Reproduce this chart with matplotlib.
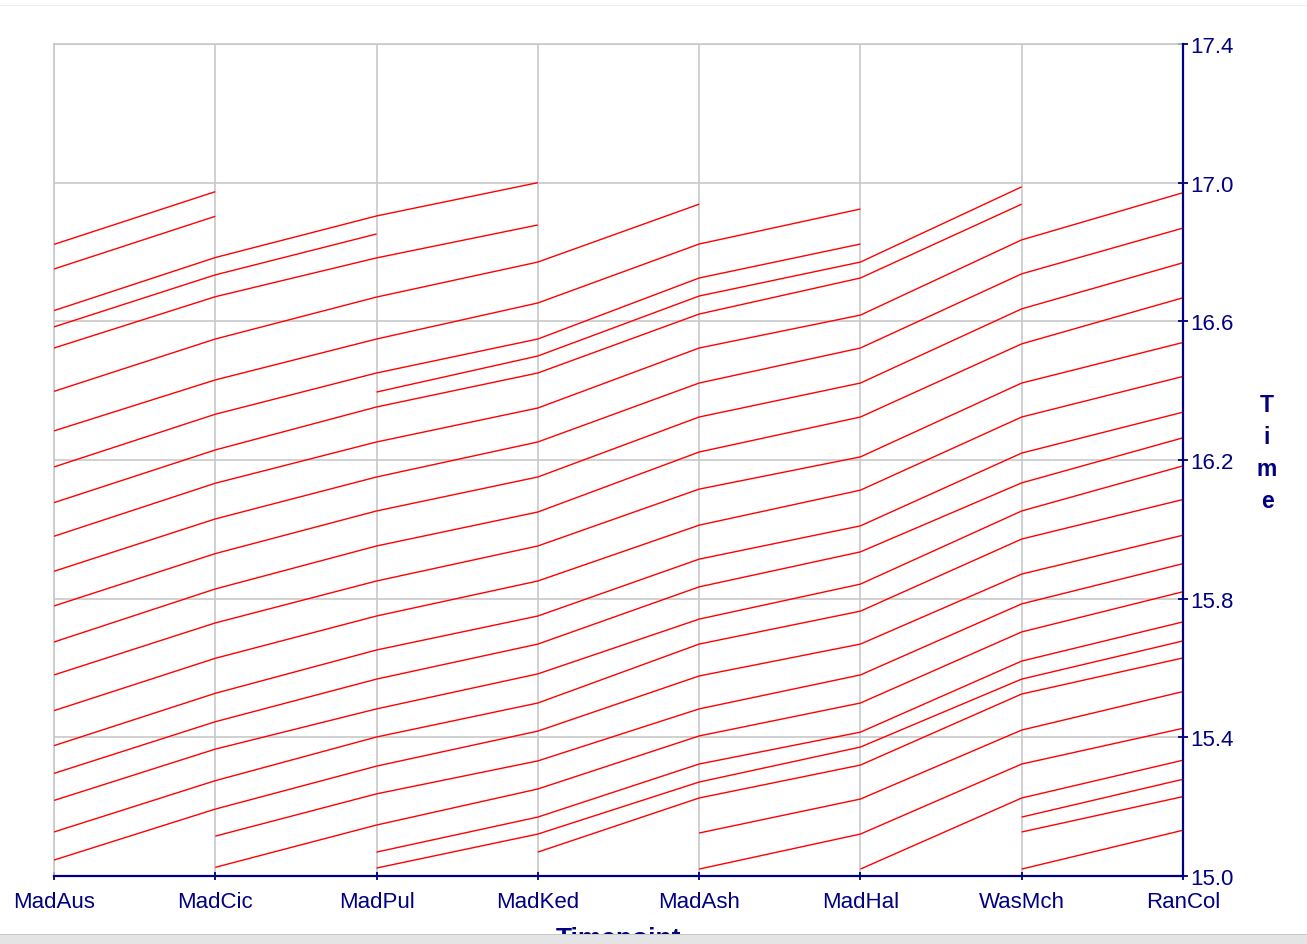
import numpy as np
import matplotlib
matplotlib.use("Agg")
import matplotlib.pyplot as plt
from matplotlib.patches import Rectangle

plt.rcParams['font.family'] = ['Liberation Sans', 'DejaVu Sans']

stations = ["MadAus", "MadCic", "MadPul", "MadKed", "MadAsh", "MadHal", "WasMch", "RanCol"]
y_ticks = [15.0, 15.4, 15.8, 16.2, 16.6, 17.0, 17.4]
N = None

# times (decimal hours) at each timepoint; None = train not serving that timepoint
train_01 = [16.822, 16.974, N, N, N, N, N, N]
train_02 = [16.751, 16.903, N, N, N, N, N, N]
train_03 = [16.631, 16.784, 16.904, 17.000, N, N, N, N]
train_04 = [16.584, 16.734, 16.852, N, N, N, N, N]
train_05 = [16.523, 16.671, 16.783, 16.878, N, N, N, N]
train_06 = [16.398, 16.549, 16.670, 16.771, 16.938, N, N, N]
train_07 = [16.284, 16.431, 16.549, 16.653, 16.823, 16.924, N, N]
train_08 = [16.180, 16.332, 16.451, 16.549, 16.725, 16.823, N, N]
train_09 = [16.077, 16.229, 16.353, 16.451, 16.621, 16.725, 16.938, N]
train_10 = [N, N, 16.396, 16.500, 16.673, 16.771, 16.988, N]
train_11 = [15.980, 16.133, 16.252, 16.350, 16.523, 16.618, 16.835, 16.971]
train_12 = [15.879, 16.030, 16.151, 16.252, 16.422, 16.523, 16.737, 16.869]
train_13 = [15.779, 15.930, 16.053, 16.151, 16.324, 16.422, 16.636, 16.769]
train_14 = [15.675, 15.828, 15.952, 16.050, 16.223, 16.324, 16.535, 16.668]
train_15 = [15.580, 15.730, 15.851, 15.952, 16.116, 16.209, 16.422, 16.539]
train_16 = [15.477, 15.628, 15.750, 15.851, 16.012, 16.113, 16.324, 16.441]
train_17 = [15.376, 15.527, 15.652, 15.750, 15.914, 16.010, 16.220, 16.338]
train_18 = [15.296, 15.445, 15.568, 15.669, 15.834, 15.935, 16.134, 16.264]
train_19 = [15.218, 15.366, 15.482, 15.583, 15.741, 15.842, 16.053, 16.183]
train_20 = [15.127, 15.275, 15.401, 15.499, 15.669, 15.764, 15.972, 16.086]
train_21 = [15.046, 15.193, 15.317, 15.418, 15.577, 15.669, 15.871, 15.983]
train_22 = [N, 15.115, 15.237, 15.332, 15.482, 15.580, 15.785, 15.901]
train_23 = [N, 15.025, 15.147, 15.251, 15.404, 15.499, 15.704, 15.820]
train_24 = [N, N, 15.069, 15.170, 15.323, 15.415, 15.620, 15.733]
train_25 = [N, N, 15.023, 15.121, 15.271, 15.372, 15.568, 15.678]
train_26 = [N, N, N, 15.069, 15.225, 15.320, 15.525, 15.629]
train_27 = [N, N, N, N, 15.124, 15.222, 15.421, 15.532]
train_28 = [N, N, N, N, 15.020, 15.121, 15.323, 15.426]
train_29 = [N, N, N, N, N, 15.020, 15.225, 15.334]
train_30 = [N, N, N, N, N, N, 15.170, 15.279]
train_31 = [N, N, N, N, N, N, 15.127, 15.229]
train_32 = [N, N, N, N, N, N, 15.020, 15.132]

trains = [train_01, train_02, train_03, train_04, train_05, train_06, train_07, train_08,
          train_09, train_10, train_11, train_12, train_13, train_14, train_15, train_16,
          train_17, train_18, train_19, train_20, train_21, train_22, train_23, train_24,
          train_25, train_26, train_27, train_28, train_29, train_30, train_31, train_32]

NAVY = '#000080'
GRID = '#c8c8c8'

W, H = 1307, 945
fig = plt.figure(figsize=(W / 100, H / 100), dpi=100)
fig.patch.set_facecolor('white')
left, right, top, bottom = 54, 1183, 45, 877
ax = fig.add_axes([left / W, (H - bottom) / H, (right - left) / W, (bottom - top) / H])

x = np.arange(len(stations))
for t in trains:
    y = np.array([np.nan if v is None else v for v in t], dtype=float)
    ax.plot(x, y, color='#ff0000', lw=1.0, solid_capstyle='butt', zorder=3)

ax.set_xlim(0, len(stations) - 1)
ax.set_ylim(15.0, 17.4)
ax.set_xticks(x)
ax.set_xticklabels(stations)
ax.set_yticks(y_ticks)
ax.set_yticklabels([f"{v:.1f}" for v in y_ticks])

ax.grid(True, color=GRID, lw=1.2, zorder=0)
ax.set_axisbelow(True)

ax.yaxis.tick_right()
for s in ['left', 'top']:
    ax.spines[s].set_color(GRID)
    ax.spines[s].set_linewidth(1.2)
for s in ['right', 'bottom']:
    ax.spines[s].set_color(NAVY)
    ax.spines[s].set_linewidth(1.6)
    ax.spines[s].set_zorder(5)

ax.tick_params(axis='x', direction='inout', length=6, width=1.3, color=NAVY,
               labelcolor=NAVY, labelsize=16, pad=8)
ax.tick_params(axis='y', direction='inout', length=7, width=1.3, color=NAVY,
               labelcolor=NAVY, labelsize=16, pad=2, left=False, right=True)

fig.text(1267 / W, 1 - 453 / H, "T\ni\nm\ne", ha='center', va='center',
         fontsize=16.5, fontweight='bold', color=NAVY, linespacing=1.5)
fig.text(619 / W, 1 - 927 / H, "Timepoint", ha='center', va='top',
         fontsize=19, fontweight='bold', color=NAVY)

# window chrome: bottom bar and faint top line
fig.patches.append(Rectangle((0, 0), 1, 10 / H, transform=fig.transFigure,
                             facecolor='#e4e4e4', edgecolor='none', zorder=10))
fig.patches.append(Rectangle((0, 9 / H), 1, 1.5 / H, transform=fig.transFigure,
                             facecolor='#c8c8c8', edgecolor='none', zorder=11))
fig.patches.append(Rectangle((0, 1 - 7 / H), 1, 1.5 / H, transform=fig.transFigure,
                             facecolor='#ececec', edgecolor='none', zorder=11))

fig.savefig("out.png", dpi=100)
